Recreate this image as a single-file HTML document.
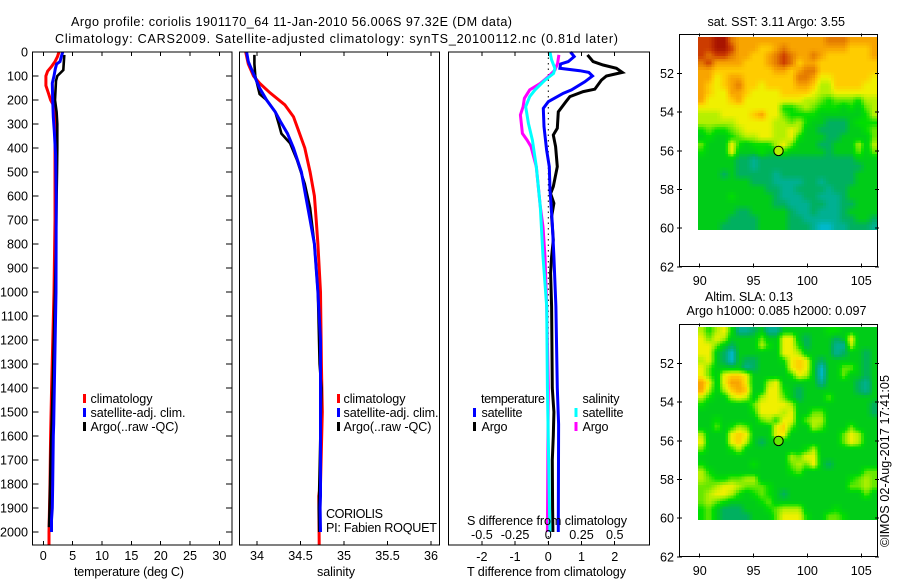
<!DOCTYPE html>
<html lang="en">
<head>
<meta charset="utf-8">
<title>Argo profile chart</title>
<style>
html,body{margin:0;padding:0;background:#fff;width:900px;height:580px;overflow:hidden}
svg{display:block}
text{font-family:"Liberation Sans",sans-serif;font-size:12.6px;fill:#000}
</style>
</head>
<body>
<svg id="chart" xmlns="http://www.w3.org/2000/svg" width="900" height="580" viewBox="0 0 900 580">
<rect x="0" y="0" width="900" height="580" fill="#fff"/>
<g id="maps"></g>
<g id="series"></g>
<g id="axes"></g>

<text x="71" y="26" textLength="441" lengthAdjust="spacing">Argo profile: coriolis 1901170_64 11-Jan-2010 56.006S 97.32E (DM data)</text>
<text x="55" y="43" textLength="563" lengthAdjust="spacing">Climatology: CARS2009. Satellite-adjusted climatology: synTS_20100112.nc (0.81d later)</text>

<text x="74" y="576" textLength="110" lengthAdjust="spacing">temperature (deg C)</text>
<text x="317" y="576" textLength="38" lengthAdjust="spacing">salinity</text>
<text x="467" y="576" textLength="159" lengthAdjust="spacing">T difference from climatology</text>
<text x="467" y="525" textLength="160" lengthAdjust="spacing">S difference from climatology</text>

<g>
<rect x="83" y="394" width="3" height="9" fill="#f00"/>
<rect x="83" y="408" width="3" height="9" fill="#00f"/>
<rect x="83" y="422" width="3" height="9" fill="#000"/>
<text x="90.5" y="403" textLength="62" lengthAdjust="spacing">climatology</text>
<text x="90.5" y="417" textLength="95" lengthAdjust="spacing">satellite-adj. clim.</text>
<text x="90.5" y="431" textLength="88" lengthAdjust="spacing">Argo(..raw -QC)</text>
</g>
<g>
<rect x="337" y="394" width="3" height="9" fill="#f00"/>
<rect x="337" y="408" width="3" height="9" fill="#00f"/>
<rect x="337" y="422" width="3" height="9" fill="#000"/>
<text x="343.5" y="403" textLength="62" lengthAdjust="spacing">climatology</text>
<text x="343.5" y="417" textLength="95" lengthAdjust="spacing">satellite-adj. clim.</text>
<text x="343.5" y="431" textLength="88" lengthAdjust="spacing">Argo(..raw -QC)</text>
<text x="326" y="518" textLength="57" lengthAdjust="spacing">CORIOLIS</text>
<text x="326" y="532" textLength="111" lengthAdjust="spacing">PI: Fabien ROQUET</text>
</g>
<g>
<text x="481" y="403" textLength="64" lengthAdjust="spacing">temperature</text>
<text x="582.5" y="403" textLength="37" lengthAdjust="spacing">salinity</text>
<rect x="473" y="408" width="3" height="9" fill="#00f"/>
<rect x="473" y="422" width="3" height="9" fill="#000"/>
<rect x="574.5" y="408" width="3" height="9" fill="#0ff"/>
<rect x="574.5" y="422" width="3" height="9" fill="#f0f"/>
<text x="481.5" y="417" textLength="41" lengthAdjust="spacing">satellite</text>
<text x="481.5" y="431" textLength="26" lengthAdjust="spacing">Argo</text>
<text x="582.5" y="417" textLength="41" lengthAdjust="spacing">satellite</text>
<text x="582.5" y="431" textLength="26" lengthAdjust="spacing">Argo</text>
</g>

<text x="707.5" y="26" textLength="137.5" lengthAdjust="spacing">sat. SST: 3.11 Argo: 3.55</text>
<text x="705" y="301" textLength="88" lengthAdjust="spacing">Altim. SLA: 0.13</text>
<text x="686.5" y="315" textLength="180" lengthAdjust="spacing">Argo h1000: 0.085 h2000: 0.097</text>
<text transform="translate(889 547) rotate(-90)" x="0" y="0" textLength="172" lengthAdjust="spacing">©IMOS 02-Aug-2017 17:41:05</text>
</svg>

<script>
/* ---------- profile data (depth in dbar) ---------- */
const tempTicks = [0, 5, 10, 15, 20, 25, 30];
const salTicks = [34, 34.5, 35, 35.5, 36];
const salTickLabels = ['34', '34.5', '35', '35.5', '36'];
const depthTicks = [0,100,200,300,400,500,600,700,800,900,1000,1100,1200,1300,1400,1500,1600,1700,1800,1900,2000];
const tDiffTicks = [-2, -1, 0, 1, 2];
const sDiffTicks = [-0.5, -0.25, 0, 0.25, 0.5];
const sDiffTickLabels = ['-0.5', '-0.25', '0', '0.25', '0.5'];
const lonTicks = [90, 95, 100, 105];
const latTicks = [52, 54, 56, 58, 60, 62];

const tempClimDepth = [0,20,40,60,80,100,140,170,200,225,300,700,1000,1400,1600,1800,2000,2054];
const tempClimValues = [2.67,2.4,2,1.42,0.74,0.45,0.45,0.85,1.25,1.8,2,2,1.82,1.42,1.25,1.14,0.97,0.97];
const tempArgoDepth = [12,75,100,120,200,250,300,350,400,500,600,800,1000,1400,1700,1900,1980];
const tempArgoValues = [3.58,3.41,2.39,2.16,1.99,2.27,2.39,2.39,2.39,2.33,2.27,2.16,1.99,1.6,1.25,1.08,0.97];
const tempSatDepth = [0,20,40,50,70,100,130,200,270,330,430,600,1000,1400,1550,1600,1700,1800,1900,1950,2000];
const tempSatValues = [3.3,3.07,2.84,2.27,2.05,1.82,1.53,1.6,1.7,1.88,2.1,2.2,2.16,1.88,1.78,1.7,1.65,1.6,1.53,1.4,1.4];

const salClimDepth = [0,50,100,130,170,220,270,340,400,500,600,700,800,1000,1300,1500,1800,1850,2054];
const salClimValues = [33.87,33.9,33.96,34.03,34.15,34.32,34.42,34.49,34.55,34.61,34.66,34.68,34.7,34.73,34.74,34.75,34.73,34.71,34.715];
const salArgoDepth = [12,50,100,175,200,250,300,340,380,450,550,650,800,1000,1300,1400,1900,2000];
const salArgoValues = [33.97,33.97,33.98,34.03,34.11,34.21,34.25,34.28,34.38,34.46,34.55,34.61,34.66,34.7,34.72,34.74,34.71,34.715];
const salSatDepth = [0,40,100,150,200,250,290,340,400,500,600,700,800,1000,1200,1400,1800,1850,1900,2000];
const salSatValues = [33.88,33.9,33.97,34.03,34.11,34.21,34.27,34.35,34.42,34.51,34.56,34.61,34.66,34.7,34.73,34.73,34.73,34.73,34.725,34.73];

const tDiffArgoDepth = [12,40,54,68,85,100,117,155,165,186,207,249,318,346,394,478,561,590,630,686,783,853,922,1061,1400,1500,1600,1700,1900,2000];
const tDiffArgoValues = [1.18,1.35,1.65,2.05,2.23,1.75,1.6,1.4,1.05,0.65,0.53,0.3,0.27,0.15,0.22,0.27,0.15,0.07,0.17,0.1,0.15,0.1,0.07,0.1,0.12,0.17,0.15,0.12,0.13,0.14];
const tDiffSatDepth = [0,19,40,50,68,78,85,100,124,158,172,207,235,311,408,478,575,714,853,1061,1400,1550,2000];
const tDiffSatValues = [0.67,0.78,0.6,0.37,0.35,0.95,1.22,1.33,1.1,0.7,0.45,0,-0.15,-0.13,-0.05,0.03,0.05,0.12,0.17,0.23,0.27,0.31,0.3];
const sDiffSatDepth = [0,33,68,89,117,158,186,228,297,367,478,644,853,1061,1400,2000];
const sDiffSatValues = [0.012,0.025,0.05,0.04,-0.025,-0.1,-0.14,-0.17,-0.15,-0.12,-0.09,-0.06,-0.04,-0.012,-0.007,0.012];
const sDiffArgoDepth = [12,47,75,103,131,158,193,228,262,339,367,394,478,644,728,853,1061,1400,2000];
const sDiffArgoValues = [0.08,0.07,0.05,0,-0.06,-0.14,-0.18,-0.19,-0.21,-0.195,-0.16,-0.13,-0.09,-0.06,-0.04,-0.025,-0.012,0,-0.007];

/* ---------- map data: colour level per grid node (0 = cyan ... 12 = dark red) ---------- */
const sstGrid = [
[11,11,12,12,10,9,9,9,9,9,9,9,9,9,9,9,9,10,10,10,9,9,9,9],
[11,11,12,12,11,9,9,9,8,8,9,10,9,9,9,9,9,9,9,9,8,8,8,9],
[11,10,11,11,10,9,9,8,8,9,10,11,10,9,9,10,9,8,8,8,8,8,8,9],
[10,11,9,9,9,9,8,8,8,9,10,11,10,8,9,9,8,8,8,8,8,8,8,8],
[9,9,8,8,8,8,8,8,8,8,9,9,8,9,10,10,8,8,8,8,8,8,8,8],
[9,9,7,8,9,9,8,8,8,8,8,8,8,10,10,9,7,7,8,8,8,8,8,7],
[9,8,7,8,9,10,8,8,7,8,8,8,8,9,9,8,6,6,8,8,8,8,7,7],
[9,8,7,7,9,9,8,7,7,7,7,8,8,8,8,7,6,6,7,7,7,7,7,7],
[9,7,7,7,8,9,7,7,7,7,7,7,7,7,6,6,5,4,5,5,5,4,6,6],
[7,7,7,7,7,7,7,7,7,7,7,4,4,5,6,5,4,4,4,3,4,3,5,6],
[6,6,6,7,7,7,7,8,9,7,7,5,4,4,4,4,3,3,3,3,3,3,4,6],
[6,6,6,6,6,7,7,7,7,7,6,6,5,6,4,3,3,2,2,2,3,4,4,4],
[4,5,4,4,5,6,7,7,7,7,6,6,7,6,3,3,2,2,2,2,3,3,4,5],
[3,4,3,3,4,5,6,6,7,7,6,6,7,4,3,3,3,2,2,3,3,3,3,5],
[5,3,3,3,7,4,3,4,4,4,6,7,5,3,3,3,2,2,3,3,3,6,3,6],
[4,3,3,3,7,3,3,3,4,3,3,4,3,3,3,3,3,2,3,3,3,5,3,5],
[3,3,3,3,3,2,2,1,2,2,2,2,2,2,2,2,2,2,2,2,2,3,3,3],
[3,3,3,3,3,2,2,1,2,2,2,2,2,2,2,2,2,2,2,2,2,2,3,3],
[3,3,3,2,3,2,2,2,2,2,1,2,2,2,2,2,2,2,2,2,2,3,3,3],
[3,3,3,3,3,3,3,2,2,2,1,1,1,1,2,2,1,2,2,2,2,3,3,3],
[3,3,3,3,3,3,3,3,3,2,2,1,1,2,2,2,2,1,2,2,3,3,3,3],
[3,3,3,3,4,3,3,3,3,3,2,1,1,1,2,2,1,1,1,2,3,3,3,3],
[3,3,3,3,3,3,3,3,3,3,2,2,1,1,1,2,2,1,1,2,2,3,3,3],
[3,3,3,3,3,2,2,3,3,3,3,3,2,1,1,2,1,1,1,2,3,3,3,3],
[3,3,3,3,2,2,2,2,3,3,3,3,2,2,1,1,1,1,1,2,2,3,3,2],
[3,3,3,2,2,2,2,2,3,3,3,3,2,2,2,1,0,0,1,1,2,2,2,1]
];
const slaGrid = [
[6,4,6,7,4,1,1,2,3,1,1,3,3,3,3,3,3,4,4,3,3,3,3,3],
[7,5,7,6,3,3,3,3,5,3,3,7,7,3,2,3,3,3,2,3,7,3,3,3],
[7,7,5,3,2,3,3,3,6,4,3,7,7,4,2,3,3,3,1,1,6,3,3,3],
[7,7,3,2,0,3,3,3,3,3,3,7,7,6,3,3,3,3,1,2,3,3,2,3],
[6,7,3,2,0,3,2,2,3,3,3,4,7,8,7,3,2,3,3,3,3,3,2,3],
[7,5,3,3,3,3,1,2,3,3,3,3,7,8,7,3,0,3,3,5,5,3,2,3],
[7,5,3,7,8,8,7,3,3,3,3,3,4,7,6,3,0,3,3,5,3,3,2,3],
[9,7,3,7,9,9,7,3,3,6,7,3,3,3,3,3,1,3,3,3,3,2,1,3],
[9,6,3,6,8,9,8,3,3,7,7,4,3,2,3,3,3,3,3,3,3,2,1,3],
[6,4,3,3,6,7,6,3,6,7,7,5,3,2,3,3,3,5,3,3,3,3,3,3],
[4,3,3,3,3,3,3,5,7,7,7,7,6,3,3,3,3,3,3,3,3,3,3,2],
[3,3,3,3,3,3,3,4,7,7,7,6,7,3,3,5,5,3,3,3,3,3,3,2],
[3,3,4,3,3,3,3,3,5,6,4,7,7,3,5,6,6,3,3,3,3,3,3,3],
[3,3,5,3,4,6,5,3,3,3,7,8,5,3,3,6,5,3,3,3,5,3,3,3],
[6,3,3,3,7,8,7,3,3,3,7,7,3,3,3,3,3,3,3,5,7,6,3,3],
[7,3,3,3,7,8,6,3,2,3,3,3,3,3,3,3,3,3,3,5,7,6,3,3],
[5,3,3,3,4,6,3,3,3,3,3,3,3,3,4,6,3,3,3,3,3,3,3,3],
[3,3,3,3,3,3,3,3,3,3,3,3,6,5,7,7,3,3,3,3,3,3,3,3],
[4,3,3,3,3,3,3,4,3,3,3,3,5,6,5,7,3,2,3,3,3,3,3,3],
[6,4,3,3,3,3,3,3,3,3,3,3,4,5,3,3,3,3,3,3,3,3,5,5],
[6,5,4,4,5,5,6,6,3,3,3,3,3,3,3,3,3,3,3,3,4,5,6,5],
[5,5,6,7,7,6,5,5,5,4,3,3,3,3,3,3,3,3,3,3,5,5,6,5],
[5,6,7,7,6,4,3,4,5,4,3,2,3,3,3,3,3,3,3,3,3,3,5,3],
[5,6,5,4,3,3,3,3,4,5,3,3,3,3,3,3,3,3,3,3,3,3,3,3],
[4,5,3,2,2,2,3,3,3,4,5,6,6,6,3,3,3,3,4,3,3,3,3,3],
[4,5,3,2,2,2,2,3,3,3,5,7,7,7,4,3,3,5,5,4,3,3,3,3]
];
const levelColors = [[0,184,204],[0,176,146],[0,176,96],[0,204,24],[0,222,0],[102,232,0],[180,240,0],[240,240,0],[255,204,0],[248,164,0],[228,122,0],[204,60,0],[168,20,0]];
const argoLon = [97.32];
const argoLat = [56.006];
const sstArgoLevel = [6];
const slaArgoLevel = [5];

/* ---------- axis functions ---------- */
const NS = 'http://www.w3.org/2000/svg';
const depthY = d => 52 + d * 0.24;
const tempX = t => 43.3 + t * 5.87;
const salX = s => 257 + (s - 34) * 87;
const tDiffX = t => 548.3 + t * 33.2;
const sDiffX = s => 548.3 + s * 132.8;
const lonX = lon => 699.7 + (lon - 90) * 10.77;
const latY = (lat, top) => top + 39 + (lat - 52) * 19.33;

const seriesLayer = document.getElementById('series');
const axesLayer = document.getElementById('axes');
const mapsLayer = document.getElementById('maps');

function levelColor(v) {
  const lo = Math.max(0, Math.min(levelColors.length - 1, Math.floor(v)));
  const hi = Math.min(levelColors.length - 1, lo + 1);
  const f = Math.max(0, Math.min(1, v - lo));
  const c = levelColors[lo].map((a, i) => Math.round(a + (levelColors[hi][i] - a) * f));
  return 'rgb(' + c.join(',') + ')';
}

function sampleGrid(grid, u, v) {
  const rows = grid.length, cols = grid[0].length;
  const gx = Math.max(0, Math.min(cols - 1, u * cols - 0.5));
  const gy = Math.max(0, Math.min(rows - 1, v * rows - 0.5));
  const x0 = Math.floor(gx), y0 = Math.floor(gy);
  const x1 = Math.min(cols - 1, x0 + 1), y1 = Math.min(rows - 1, y0 + 1);
  const fx = gx - x0, fy = gy - y0;
  return (grid[y0][x0] * (1 - fx) + grid[y0][x1] * fx) * (1 - fy) + (grid[y1][x0] * (1 - fx) + grid[y1][x1] * fx) * fy;
}

function drawProfile(depths, values, xFn, color, width, name) {
  const el = document.createElementNS(NS, 'polyline');
  el.setAttribute('points', depths.map((d, i) => xFn(values[i]).toFixed(1) + ',' + depthY(d).toFixed(1)).join(' '));
  el.setAttribute('fill', 'none');
  el.setAttribute('stroke', color);
  el.setAttribute('stroke-width', width);
  
  
  seriesLayer.appendChild(el);
}

function line(x1, y1, x2, y2, w) {
  const el = document.createElementNS(NS, 'line');
  el.setAttribute('x1', x1);
  el.setAttribute('y1', y1);
  el.setAttribute('x2', x2);
  el.setAttribute('y2', y2);
  el.setAttribute('stroke', '#000');
  el.setAttribute('stroke-width', w || 1);
  el.setAttribute('shape-rendering', 'crispEdges');
  
  
  axesLayer.appendChild(el);
}

function label(x, y, str, anchor) {
  const el = document.createElementNS(NS, 'text');
  el.setAttribute('x', x);
  el.setAttribute('y', y);
  el.setAttribute('text-anchor', anchor);
  
  
  el.textContent = str;
  axesLayer.appendChild(el);
}

function frame(x, y, w, h) {
  const el = document.createElementNS(NS, 'rect');
  el.setAttribute('x', x);
  el.setAttribute('y', y);
  el.setAttribute('width', w);
  el.setAttribute('height', h);
  el.setAttribute('fill', 'none');
  el.setAttribute('stroke', '#000');
  el.setAttribute('stroke-width', 1);
  el.setAttribute('shape-rendering', 'crispEdges');
  
  
  axesLayer.appendChild(el);
}

function drawMap(grid, top, level) {
  const x0 = lonX(89.85), x1 = lonX(106.5);
  const y0 = latY(50.12, top), y1 = latY(60.1, top);
  const nx = Math.round((x1 - x0) / 2.7), ny = Math.round((y1 - y0) / 2.7);
  for (let r = 0; r < ny; r++) {
    for (let c = 0; c < nx; c++) {
      const el = document.createElementNS(NS, 'rect');
      const xa = x0 + (x1 - x0) * c / nx;
      const xb = x0 + (x1 - x0) * (c + 1) / nx;
      const ya = y0 + (y1 - y0) * r / ny;
      const yb = y0 + (y1 - y0) * (r + 1) / ny;
      el.setAttribute('x', xa.toFixed(2));
      el.setAttribute('y', ya.toFixed(2));
      el.setAttribute('width', (xb - xa).toFixed(2));
      el.setAttribute('height', (yb - ya).toFixed(2));
      el.setAttribute('fill', levelColor(sampleGrid(grid, (c + 0.5) / nx, (r + 0.5) / ny)));
      el.setAttribute('shape-rendering', 'crispEdges');
      
      
      mapsLayer.appendChild(el);
    }
  }
  const dot = document.createElementNS(NS, 'circle');
  dot.setAttribute('cx', lonX(argoLon[0]).toFixed(1));
  dot.setAttribute('cy', latY(argoLat[0], top).toFixed(1));
  dot.setAttribute('r', 4.7);
  dot.setAttribute('fill', levelColor(level[0]));
  dot.setAttribute('stroke', '#000');
  dot.setAttribute('stroke-width', 1);
  
  
  mapsLayer.appendChild(dot);
}

/* ---------- series ---------- */
drawProfile(tempClimDepth, tempClimValues, tempX, '#f00', 3, 'temperature-climatology-line');
drawProfile(tempArgoDepth, tempArgoValues, tempX, '#000', 2.6, 'temperature-argo-line');
drawProfile(tempSatDepth, tempSatValues, tempX, '#00f', 3, 'temperature-satellite-line');
drawProfile(salClimDepth, salClimValues, salX, '#f00', 3, 'salinity-climatology-line');
drawProfile(salArgoDepth, salArgoValues, salX, '#000', 2.6, 'salinity-argo-line');
drawProfile(salSatDepth, salSatValues, salX, '#00f', 3, 'salinity-satellite-line');

const zero = document.createElementNS(NS, 'line');
zero.setAttribute('x1', tDiffX(0));
zero.setAttribute('x2', tDiffX(0));
zero.setAttribute('y1', 52);
zero.setAttribute('y2', 545);
zero.setAttribute('stroke', '#000');
zero.setAttribute('stroke-width', 1);
zero.setAttribute('stroke-dasharray', '1.5 4');


seriesLayer.appendChild(zero);

drawProfile(sDiffArgoDepth, sDiffArgoValues, sDiffX, '#f0f', 3, 'salinity-difference-argo-line');
drawProfile(tDiffArgoDepth, tDiffArgoValues, tDiffX, '#000', 3, 'temperature-difference-argo-line');
drawProfile(tDiffSatDepth, tDiffSatValues, tDiffX, '#00f', 3, 'temperature-difference-satellite-line');
drawProfile(sDiffSatDepth, sDiffSatValues, sDiffX, '#0ff', 3, 'salinity-difference-satellite-line');

/* ---------- axes ---------- */
frame(32.5, 52, 199.5, 493);
frame(239.5, 52, 200, 493);
frame(448.5, 52, 201, 493);
frame(679.5, 34.5, 198, 232);
frame(679.5, 324.5, 198, 232);

depthTicks.forEach(d => {
  line(32.5, depthY(d), 38.5, depthY(d));
  line(226, depthY(d), 232, depthY(d));
  label(28, depthY(d) + 4.5, String(d), 'end');
});
tempTicks.forEach(t => {
  line(tempX(t), 52, tempX(t), 56);
  line(tempX(t), 541, tempX(t), 545);
  label(tempX(t), 560, String(t), 'middle');
});
salTicks.forEach((s, i) => {
  line(salX(s), 52, salX(s), 56);
  line(salX(s), 541, salX(s), 545);
  label(salX(s), 560, salTickLabels[i], 'middle');
});
tDiffTicks.forEach(t => {
  line(tDiffX(t), 541, tDiffX(t), 545);
  label(tDiffX(t), 561, String(t), 'middle');
});
sDiffTicks.forEach((s, i) => {
  line(sDiffX(s), 52, sDiffX(s), 56);
  label(sDiffX(s), 539, sDiffTickLabels[i], 'middle');
});
[34.5, 324.5].forEach((top, m) => {
  lonTicks.forEach(lon => {
    line(lonX(lon), top - 1, lonX(lon), top + 2);
    line(lonX(lon), top + 229, lonX(lon), top + 233);
    label(lonX(lon), m === 0 ? 285 : 575, String(lon), 'middle');
  });
  latTicks.forEach(lat => {
    line(677, latY(lat, top), 682, latY(lat, top));
    line(875, latY(lat, top), 879, latY(lat, top));
    label(674, latY(lat, top) + 4.5, String(lat), 'end');
  });
});

/* ---------- maps ---------- */
drawMap(sstGrid, 34.5, sstArgoLevel);
drawMap(slaGrid, 324.5, slaArgoLevel);
</script>
</body>
</html>
